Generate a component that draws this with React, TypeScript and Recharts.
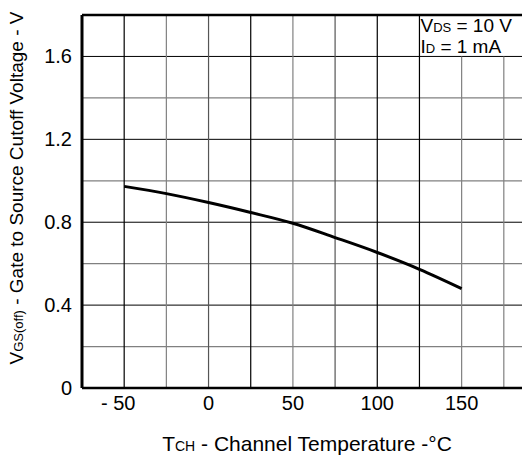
import React from 'react';
import { LineChart, Line, XAxis, YAxis, ReferenceLine, ReferenceArea } from 'recharts';

const temps = [-50, -25, 0, 25, 50, 75, 100, 125, 150];
const vgsOff = [0.973, 0.938, 0.895, 0.847, 0.795, 0.726, 0.654, 0.573, 0.48];
const xTicks = [-50, 0, 50, 100, 150];
const yTicks = [0, 0.4, 0.8, 1.2, 1.6];
const xGrid = [-50, -25, 0, 25, 50, 75, 100, 125, 150, 175];
const yGrid = [0.2, 0.4, 0.6, 0.8, 1.0, 1.2, 1.4, 1.6];

const data = temps.map((t, i) => ({ t, v: vgsOff[i] }));

const font = '"Liberation Sans", Arial, Helvetica, sans-serif';
const xGridStroke = ['#000', '#808080', '#555', '#000', '#808080', '#555', '#000', '#000', '#808080', '#808080'];
const major = (v: number) => Math.round(v * 10) % 4 === 0;

const XTick = (props: any) => {
  const { x, payload } = props;
  const neg = payload.value < 0;
  return (
    <text x={neg ? x - 6 : x} y={410} textAnchor="middle" fontSize={20} fill="#000" fontFamily={font}>
      {neg ? `- ${Math.abs(payload.value)}` : payload.value}
    </text>
  );
};

const YTick = (props: any) => {
  const { y, payload } = props;
  return (
    <text x={72} y={y} dy={7} textAnchor="end" fontSize={20} fill="#000" fontFamily={font}>
      {payload.value}
    </text>
  );
};

// test conditions box in the upper right corner of the plot
const Conditions = (props: any) => {
  const { viewBox } = props;
  const x = viewBox.x + 1;
  const y = viewBox.y;
  return (
    <g fontFamily={font} fill="#000">
      <text x={x} y={y + 17} fontSize={19}>
        <tspan>V</tspan>
        <tspan fontSize={13}>DS</tspan>
        <tspan> = 10 V</tspan>
      </text>
      <text x={x} y={y + 38} fontSize={19}>
        <tspan>I</tspan>
        <tspan fontSize={13}>D</tspan>
        <tspan> = 1 mA</tspan>
      </text>
    </g>
  );
};

export default function App() {
  return (
    <div style={{ position: 'absolute', left: 0, top: 0, width: 522, height: 455, overflow: 'hidden', background: '#fff' }}>
      <LineChart width={560} height={455} data={data} margin={{ top: 15, right: 14, bottom: 0, left: 0 }}>
        <XAxis
          dataKey="t"
          type="number"
          domain={[-75, 200]}
          ticks={xTicks}
          axisLine={false}
          tickLine={false}
          height={67}
          tick={<XTick />}
          allowDataOverflow
        />
        <YAxis
          type="number"
          domain={[0, 1.8]}
          ticks={yTicks}
          axisLine={false}
          tickLine={false}
          width={82}
          tick={<YTick />}
          allowDataOverflow
        />
        {yGrid.map((v) => (
          <ReferenceLine key={`h${v}`} y={v} stroke={major(v) ? '#000' : '#808080'} strokeWidth={major(v) ? 1 : 1.3} />
        ))}
        {xGrid.map((t, i) =>
          t > 125 ? (
            <ReferenceLine key={`v${t}`} segment={[{ x: t, y: 0 }, { x: t, y: 1.6 }]} stroke={xGridStroke[i]} strokeWidth={1.2} />
          ) : (
            <ReferenceLine key={`v${t}`} x={t} stroke={xGridStroke[i]} strokeWidth={1.2} />
          )
        )}
        <ReferenceArea x1={125} x2={200} y1={1.6} y2={1.8} fill="none" stroke="none" label={<Conditions />} />
        <ReferenceLine x={-75} stroke="#000" strokeWidth={3} />
        <ReferenceLine y={0} stroke="#000" strokeWidth={2.5} />
        <ReferenceLine y={1.8} stroke="#000" strokeWidth={2.5} />
        <Line type="monotone" dataKey="v" stroke="#000" strokeWidth={3} dot={false} isAnimationActive={false} />
      </LineChart>
      <svg width={522} height={455} style={{ position: 'absolute', left: 0, top: 0, pointerEvents: 'none' }}>
        <text x={23} y={188} transform="rotate(-90, 23, 188)" textAnchor="middle" fontSize={19} fontFamily={font} fill="#000">
          <tspan>V</tspan>
          <tspan fontSize={13}>GS(off)</tspan>
          <tspan> - Gate to Source Cutoff Voltage - V</tspan>
        </text>
        <text x={307} y={451} textAnchor="middle" fontSize={21} fontFamily={font} fill="#000">
          <tspan>T</tspan>
          <tspan fontSize={14}>CH</tspan>
          <tspan> - Channel Temperature -°C</tspan>
        </text>
      </svg>
    </div>
  );
}
